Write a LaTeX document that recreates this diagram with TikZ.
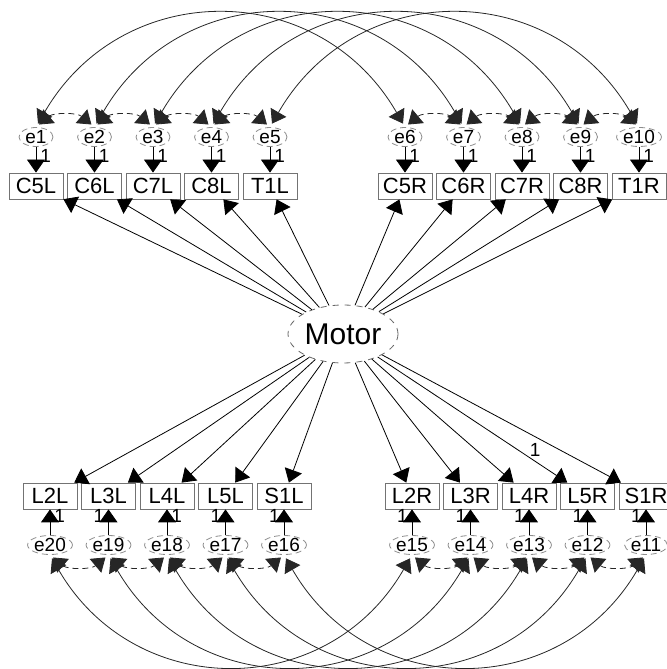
\documentclass[tikz,border=0pt]{standalone}
\usepackage{fontspec}
\setmainfont{Liberation Sans}
\usetikzlibrary{positioning,shapes.geometric,arrows.meta}

\begin{document}
\begin{tikzpicture}[x=0.5pt, y=0.5pt, node distance={29.25pt}, thin, >={Triangle[length=6.5pt,width=9pt]},
    box/.style = {draw=black!55, minimum width=27pt, minimum height=13pt, inner sep=0pt, font=\fontsize{11}{13}\selectfont},
    err/.style = {draw=black!45, densely dashed, ellipse, minimum width=17pt, minimum height=9.5pt, inner sep=0pt, font=\fontsize{9.5}{11}\selectfont},
    lat/.style = {draw=black!60, dashed, ellipse, minimum width=55pt, minimum height=29pt, inner sep=0pt, font=\fontsize{15}{17}\selectfont},
    cov/.style = {<->, black!85, shorten >=2pt, shorten <=2pt},
    one/.style = {font=\fontsize{9.5}{11}\selectfont, inner sep=2pt}]
    \useasboundingbox (0,0) rectangle (667,669);
    \node[lat] (motor) at (343,335) {Motor};

    % upper left
    \node[box] (c5l) at (36,483) {C5L};
    \node[box] (c6l) [right of=c5l] {C6L};
    \node[box] (c7l) [right of=c6l] {C7L};
    \node[box] (c8l) [right of=c7l] {C8L};
    \node[box] (t1l) [right of=c8l] {T1L};
    \node[err] (e1) [node distance=24.5pt, above of=c5l] {e1};
    \node[err] (e2) [node distance=24.5pt, above of=c6l] {e2};
    \node[err] (e3) [node distance=24.5pt, above of=c7l] {e3};
    \node[err] (e4) [node distance=24.5pt, above of=c8l] {e4};
    \node[err] (e5) [node distance=24.5pt, above of=t1l] {e5};

    % upper right
    \node[box] (c5r) at (405,483) {C5R};
    \node[box] (c6r) [right of=c5r] {C6R};
    \node[box] (c7r) [right of=c6r] {C7R};
    \node[box] (c8r) [right of=c7r] {C8R};
    \node[box] (t1r) [right of=c8r] {T1R};
    \node[err] (e6) [node distance=24.5pt, above of=c5r] {e6};
    \node[err] (e7) [node distance=24.5pt, above of=c6r] {e7};
    \node[err] (e8) [node distance=24.5pt, above of=c7r] {e8};
    \node[err] (e9) [node distance=24.5pt, above of=c8r] {e9};
    \node[err] (e10) [node distance=24.5pt, above of=t1r] {e10};

    % lower left
    \node[box] (l2l) at (50,173) {L2L};
    \node[box] (l3l) [right of=l2l] {L3L};
    \node[box] (l4l) [right of=l3l] {L4L};
    \node[box] (l5l) [right of=l4l] {L5L};
    \node[box] (s1l) [right of=l5l] {S1L};
    \node[err] (e20) [node distance=24.5pt, below of=l2l] {e20};
    \node[err] (e19) [node distance=24.5pt, below of=l3l] {e19};
    \node[err] (e18) [node distance=24.5pt, below of=l4l] {e18};
    \node[err] (e17) [node distance=24.5pt, below of=l5l] {e17};
    \node[err] (e16) [node distance=24.5pt, below of=s1l] {e16};

    % lower right
    \node[box] (l2r) at (412,173) {L2R};
    \node[box] (l3r) [right of=l2r] {L3R};
    \node[box] (l4r) [right of=l3r] {L4R};
    \node[box] (l5r) [right of=l4r] {L5R};
    \node[box] (s1r) [right of=l5r] {S1R};
    \node[err] (e15) [node distance=24.5pt, below of=l2r] {e15};
    \node[err] (e14) [node distance=24.5pt, below of=l3r] {e14};
    \node[err] (e13) [node distance=24.5pt, below of=l4r] {e13};
    \node[err] (e12) [node distance=24.5pt, below of=l5r] {e12};
    \node[err] (e11) [node distance=24.5pt, below of=s1r] {e11};

    % loadings
    \draw[->] (motor) -- (c5l);
    \draw[->] (motor) -- (c6l);
    \draw[->] (motor) -- (c7l);
    \draw[->] (motor) -- (c8l);
    \draw[->] (motor) -- (t1l);
    \draw[->] (motor) -- (c5r);
    \draw[->] (motor) -- (c6r);
    \draw[->] (motor) -- (c7r);
    \draw[->] (motor) -- (c8r);
    \draw[->] (motor) -- (t1r);
    \draw[->] (motor) -- (l2l);
    \draw[->] (motor) -- (l3l);
    \draw[->] (motor) -- (l4l);
    \draw[->] (motor) -- (l5l);
    \draw[->] (motor) -- (s1l);
    \draw[->] (motor) -- (l2r);
    \draw[->] (motor) -- (l3r);
    \draw[->] (motor) -- (l4r);
    \draw[->] (motor) -- node[one, above, pos=0.83] {1} (l5r);
    \draw[->] (motor) -- (s1r);

    % errors
    \draw[->] (e1) -- node[one, right, pos=0.35] {1} (c5l);
    \draw[->] (e2) -- node[one, right, pos=0.35] {1} (c6l);
    \draw[->] (e3) -- node[one, right, pos=0.35] {1} (c7l);
    \draw[->] (e4) -- node[one, right, pos=0.35] {1} (c8l);
    \draw[->] (e5) -- node[one, right, pos=0.35] {1} (t1l);
    \draw[->] (e6) -- node[one, right, pos=0.35] {1} (c5r);
    \draw[->] (e7) -- node[one, right, pos=0.35] {1} (c6r);
    \draw[->] (e8) -- node[one, right, pos=0.35] {1} (c7r);
    \draw[->] (e9) -- node[one, right, pos=0.35] {1} (c8r);
    \draw[->] (e10) -- node[one, right, pos=0.35] {1} (t1r);
    \draw[->] (e20) -- node[one, right, pos=0.75] {1} (l2l);
    \draw[->] (e19) -- node[one, left, pos=0.75] {1} (l3l);
    \draw[->] (e18) -- node[one, right, pos=0.75] {1} (l4l);
    \draw[->] (e17) -- node[one, left, pos=0.75] {1} (l5l);
    \draw[->] (e16) -- node[one, left, pos=0.75] {1} (s1l);
    \draw[->] (e15) -- node[one, left, pos=0.75] {1} (l2r);
    \draw[->] (e14) -- node[one, left, pos=0.75] {1} (l3r);
    \draw[->] (e13) -- node[one, left, pos=0.75] {1} (l4r);
    \draw[->] (e12) -- node[one, left, pos=0.75] {1} (l5r);
    \draw[->] (e11) -- node[one, left, pos=0.75] {1} (s1r);

    % covariances, neighbours
    \draw[cov, densely dashed] (e1.north) to[bend left=40] (e2.north);
    \draw[cov, densely dashed] (e2.north) to[bend left=40] (e3.north);
    \draw[cov, densely dashed] (e3.north) to[bend left=40] (e4.north);
    \draw[cov, densely dashed] (e4.north) to[bend left=40] (e5.north);
    \draw[cov, densely dashed] (e6.north) to[bend left=40] (e7.north);
    \draw[cov, densely dashed] (e7.north) to[bend left=40] (e8.north);
    \draw[cov, densely dashed] (e8.north) to[bend left=40] (e9.north);
    \draw[cov, densely dashed] (e9.north) to[bend left=40] (e10.north);
    \draw[cov, densely dashed] (e20.south) to[bend right=40] (e19.south);
    \draw[cov, densely dashed] (e19.south) to[bend right=40] (e18.south);
    \draw[cov, densely dashed] (e18.south) to[bend right=40] (e17.south);
    \draw[cov, densely dashed] (e17.south) to[bend right=40] (e16.south);
    \draw[cov, densely dashed] (e15.south) to[bend right=40] (e14.south);
    \draw[cov, densely dashed] (e14.south) to[bend right=40] (e13.south);
    \draw[cov, densely dashed] (e13.south) to[bend right=40] (e12.south);
    \draw[cov, densely dashed] (e12.south) to[bend right=40] (e11.south);

    % covariances, left with right
    \draw[cov] (e1.north) to[bend left=60, looseness=1.2] (e6.north);
    \draw[cov] (e2.north) to[bend left=60, looseness=1.2] (e7.north);
    \draw[cov] (e3.north) to[bend left=60, looseness=1.2] (e8.north);
    \draw[cov] (e4.north) to[bend left=60, looseness=1.2] (e9.north);
    \draw[cov] (e5.north) to[bend left=60, looseness=1.2] (e10.north);
    \draw[cov] (e20.south) to[bend right=60, looseness=1.2] (e15.south);
    \draw[cov] (e19.south) to[bend right=60, looseness=1.2] (e14.south);
    \draw[cov] (e18.south) to[bend right=60, looseness=1.2] (e13.south);
    \draw[cov] (e17.south) to[bend right=60, looseness=1.2] (e12.south);
    \draw[cov] (e16.south) to[bend right=60, looseness=1.2] (e11.south);
\end{tikzpicture}
\end{document}
